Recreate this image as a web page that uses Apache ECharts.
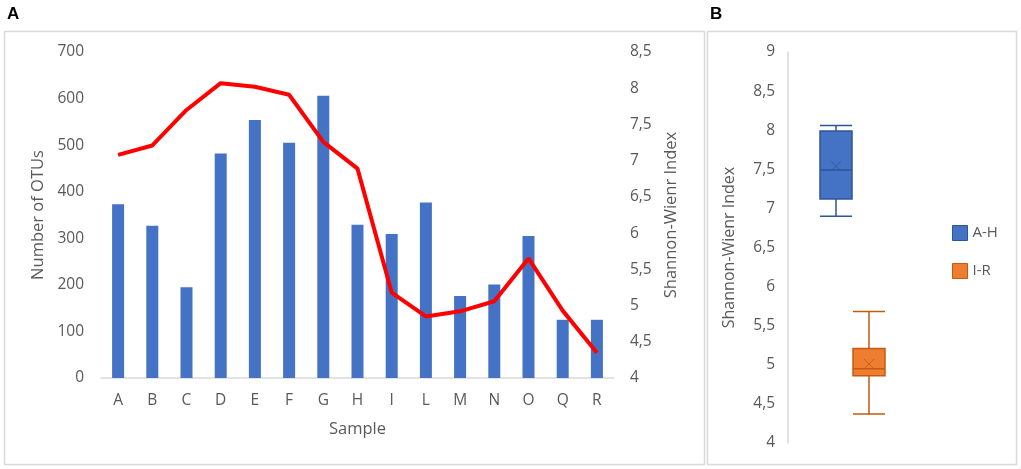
<!DOCTYPE html>
<html>
  <head>
    <meta charset="utf-8">
    <title>OTUs and Shannon-Wiener index</title>
    <style type="text/css">
      html,body{margin:0;padding:0;background:#fff;}
      #chart1{width:1021px;height:469px;}
    </style>
    <script type="text/javascript" src="https://cdn.jsdelivr.net/npm/echarts@6/dist/echarts.min.js"></script>
  </head>
  <body>
    <div id="chart1"></div>
  </body>
  <script type="text/javascript">
    // panel A
    var samples = ['A','B','C','D','E','F','G','H','I','L','M','N','O','Q','R'];
    var otus = [373, 327, 195, 482, 554, 505, 606, 329, 309, 377, 176, 201, 305, 125, 125];
    var shannon = [7.08, 7.21, 7.70, 8.07, 8.02, 7.91, 7.26, 6.89, 5.18, 4.85, 4.92, 5.06, 5.65, 4.93, 4.35];
    // panel B: [min, Q1, median, Q3, max]
    var groups = ['A-H', 'I-R'];
    var boxAH = [6.90, 7.12, 7.49, 7.99, 8.06];
    var boxIR = [4.37, 4.86, 4.95, 5.21, 5.68];
    var means = [7.54, 5.01];

    var txt = '#595959';
    var font = 'Open Sans';
    var comma = function (v) { return String(v).replace('.', ','); };
    var cross = 'path://M0,0L10,10M10,0L0,10';

    var myChart = echarts.init(document.getElementById('chart1'));
    myChart.setOption({
      animation: false,
      textStyle: { fontFamily: font },
      graphic: [
        { type: 'rect', shape: { x: 4.5, y: 31.5, width: 700, height: 433 }, style: { fill: 'none', stroke: '#d9d9d9', lineWidth: 1.5 } },
        { type: 'rect', shape: { x: 707.5, y: 31.5, width: 309, height: 433 }, style: { fill: 'none', stroke: '#d9d9d9', lineWidth: 1.5 } },
        { type: 'text', left: 7, top: 6, style: { text: 'A', fontSize: 17, fontWeight: 'bold', fontFamily: 'Liberation Sans', fill: '#000' } },
        { type: 'text', left: 710, top: 6, style: { text: 'B', fontSize: 17, fontWeight: 'bold', fontFamily: 'Liberation Sans', fill: '#000' } }
      ],
      legend: {
        data: [
          { name: groups[0], itemStyle: { color: '#4472C4', borderColor: '#2F5597', borderWidth: 1 } },
          { name: groups[1], itemStyle: { color: '#ED7D31', borderColor: '#C55A11', borderWidth: 1 } }
        ],
        orient: 'vertical',
        left: 947,
        top: 220,
        itemWidth: 15,
        itemHeight: 15,
        itemGap: 22,
        icon: 'rect',
        textStyle: { color: txt, fontSize: 15, fontFamily: font }
      },
      grid: [
        { left: 101, right: 407, top: 52, bottom: 91 },
        { left: 815.4, right: 131.4, top: 52, bottom: 26 }
      ],
      xAxis: [
        {
          type: 'category', gridIndex: 0, data: samples,
          name: 'Sample', nameLocation: 'middle', nameGap: 43,
          nameTextStyle: { color: txt, fontSize: 16.5 },
          axisLine: { lineStyle: { color: '#d9d9d9', width: 1.5 } },
          axisTick: { show: false },
          axisLabel: { color: txt, fontSize: 15.5, margin: 15 }
        },
        {
          type: 'category', gridIndex: 1, data: ['Shannon'], show: false
        }
      ],
      yAxis: [
        {
          type: 'value', gridIndex: 0, min: 0, max: 700, interval: 100,
          name: 'Number of OTUs', nameLocation: 'middle', nameGap: 51, nameRotate: 90,
          nameTextStyle: { color: txt, fontSize: 16.5 },
          axisLine: { show: false }, axisTick: { show: false }, splitLine: { show: false },
          axisLabel: { color: txt, fontSize: 15.5, margin: 17 }
        },
        {
          type: 'value', gridIndex: 0, position: 'right', min: 4, max: 8.5, interval: 0.5,
          name: 'Shannon-Wienr Index', nameLocation: 'middle', nameGap: 49, nameRotate: 90,
          nameTextStyle: { color: txt, fontSize: 16.5 },
          axisLine: { show: false }, axisTick: { show: false }, splitLine: { show: false },
          axisLabel: { color: txt, fontSize: 15.5, margin: 16, formatter: comma }
        },
        {
          type: 'value', gridIndex: 1, min: 4, max: 9, interval: 0.5, offset: 27.4,
          name: 'Shannon-Wienr Index', nameLocation: 'middle', nameGap: 51, nameRotate: 90,
          nameTextStyle: { color: txt, fontSize: 16 },
          axisLine: { show: true, lineStyle: { color: '#d9d9d9', width: 1.5 } },
          axisTick: { show: false }, splitLine: { show: false },
          axisLabel: { color: txt, fontSize: 15.5, margin: 13, formatter: comma }
        }
      ],
      series: [
        {
          name: 'OTUs', type: 'bar', xAxisIndex: 0, yAxisIndex: 0,
          data: otus, barWidth: 12,
          itemStyle: { color: '#4472C4' }
        },
        {
          name: 'Shannon', type: 'line', xAxisIndex: 0, yAxisIndex: 1,
          data: shannon, showSymbol: false, symbol: 'none',
          lineStyle: { color: '#FF0000', width: 4 }
        },
        {
          name: groups[0], type: 'boxplot', xAxisIndex: 1, yAxisIndex: 2,
          data: [boxAH], boxWidth: [32, 32],
          itemStyle: { color: '#4472C4', borderColor: '#2F5597', borderWidth: 1.5 }
        },
        {
          name: groups[1], type: 'boxplot', xAxisIndex: 1, yAxisIndex: 2,
          data: [boxIR], boxWidth: [32, 32],
          itemStyle: { color: '#ED7D31', borderColor: '#C55A11', borderWidth: 1.5 }
        },
        {
          name: 'meanAH', type: 'scatter', xAxisIndex: 1, yAxisIndex: 2,
          data: [means[0]], symbol: cross, symbolSize: 10, symbolOffset: [-16.5, 0],
          itemStyle: { color: 'none', borderColor: '#2F5597', borderWidth: 1 }
        },
        {
          name: 'meanIR', type: 'scatter', xAxisIndex: 1, yAxisIndex: 2,
          data: [means[1]], symbol: cross, symbolSize: 10, symbolOffset: [16.5, 0],
          itemStyle: { color: 'none', borderColor: '#C55A11', borderWidth: 1 }
        }
      ]
    });
  </script>
</html>
